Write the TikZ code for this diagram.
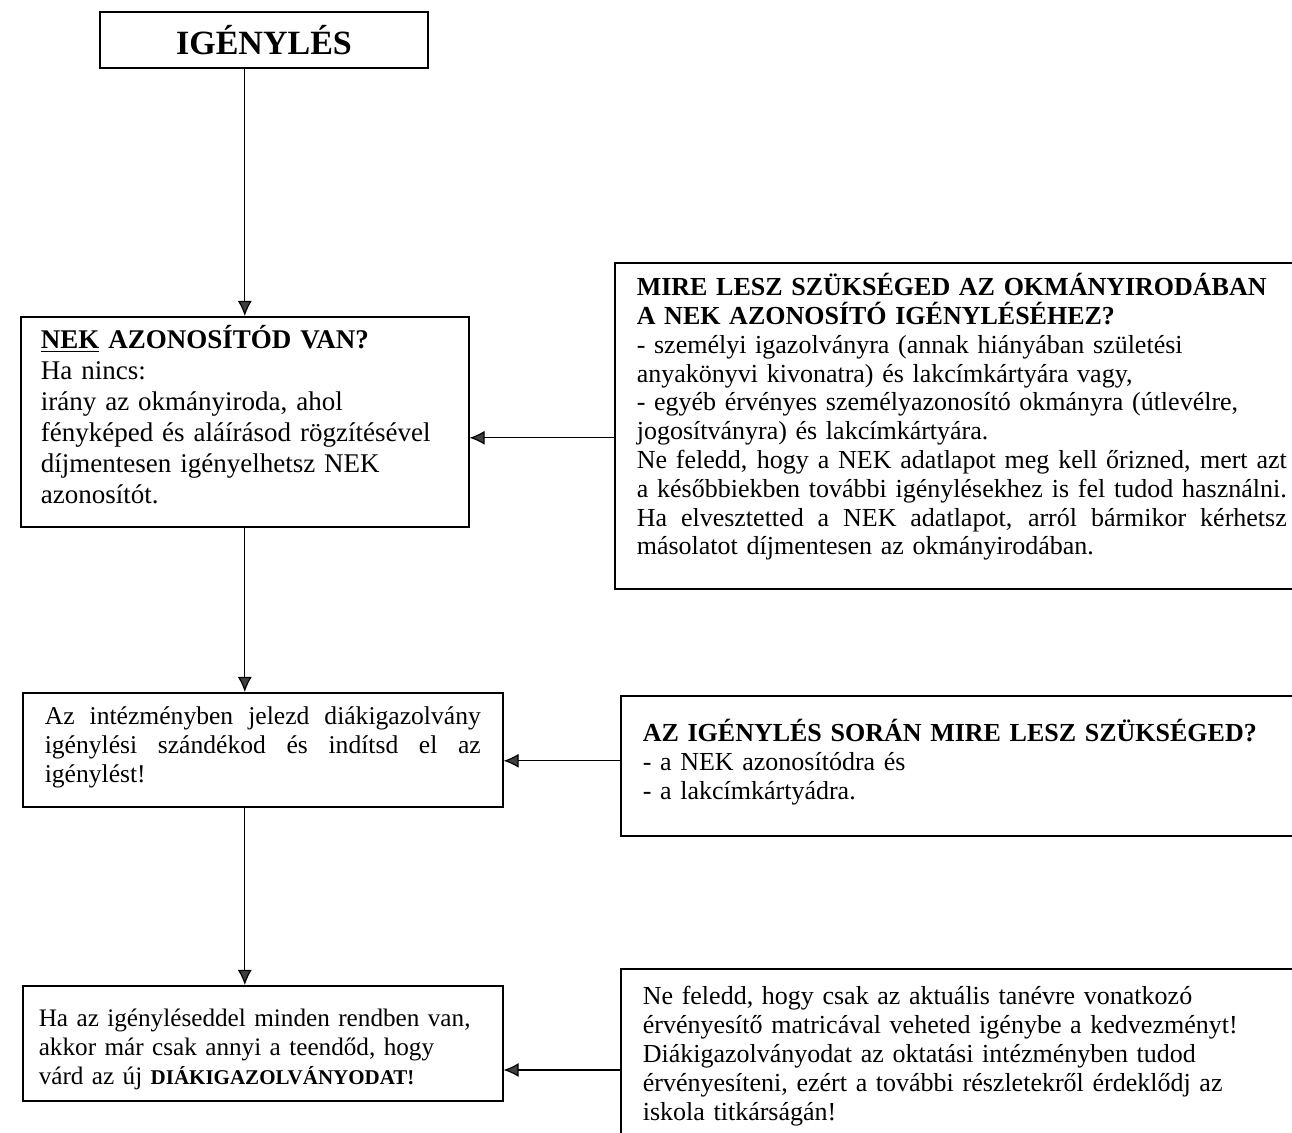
\documentclass[tikz,border=0pt]{standalone}
\usepackage{fontspec}
\setmainfont{Liberation Serif}
\usetikzlibrary{arrows.meta}

\newcommand{\spreadline}[1]{{\spaceskip=0pt\xspaceskip=0pt\makebox[\hsize][s]{#1}}}

\begin{document}
\begin{tikzpicture}[
			x = 0.5pt, y = -0.5pt, % pixel grid of the sheet
			> = {Latex[length=7.5pt,width=7pt,fill=black!75]}, % arrow head style
			semithick, % line style
			font = \fontsize{13}{14.5}\selectfont
			]
			
			\tikzstyle{stepbox}=[
			draw = black,
			thick,
			rectangle,
			anchor = north west,
			align = left,
			inner xsep = 11pt,
			inner ysep = 5pt
			]
			\tikzstyle{notebox}=[
			stepbox,
			text width = 325pt,
			text height = 10pt
			]
			
			\clip (0,0) rectangle (1292,1133);
			
			% left column
			\node[draw, thick, minimum width=164pt, minimum height=28pt,
				font=\fontsize{17}{19}\selectfont\bfseries] (title) at (264,40) {IGÉNYLÉS};
			\node[stepbox, inner xsep=10pt, text width=204pt, text height=11pt, text depth=84pt,
				font=\fontsize{13.5}{15.5}\selectfont] (nek) at (20,316)
				{\textbf{\underline{NEK} AZONOSÍTÓD VAN?}\\
				Ha nincs:\\
				irány az okmányiroda, ahol\\
				fényképed és aláírásod rögzítésével\\
				díjmentesen igényelhetsz NEK\\
				azonosítót.};
			\node[stepbox, text width=218pt, text height=11pt, text depth=36pt,
				font=\fontsize{12.8}{14.5}\selectfont] (start) at (22,692)
				{\spreadline{Az intézményben jelezd diákigazolvány}\\
				\spreadline{igénylési szándékod és indítsd el az}\\
				igénylést!};
			\node[stepbox, inner xsep=8pt, text width=224pt, text height=15.5pt, text depth=32pt,
				font=\fontsize{12.6}{14.5}\selectfont] (wait) at (22,985)
				{Ha az igényléseddel minden rendben van,\\
				akkor már csak annyi a teendőd, hogy\\
				várd az új {\bfseries\fontsize{10.5}{12}\selectfont DIÁKIGAZOLVÁNYODAT!}};
			
			% right column
			\node[notebox, inner ysep=6.5pt, text depth=140pt,
				font=\fontsize{13}{14.4}\selectfont] (office) at (614,262)
				{\textbf{MIRE LESZ SZÜKSÉGED AZ OKMÁNYIRODÁBAN}\\
				\textbf{A NEK AZONOSÍTÓ IGÉNYLÉSÉHEZ?}\\
				- személyi igazolványra (annak hiányában születési\\
				anyakönyvi kivonatra) és lakcímkártyára vagy,\\
				- egyéb érvényes személyazonosító okmányra (útlevélre,\\
				jogosítványra) és lakcímkártyára.\\
				\spreadline{Ne feledd, hogy a NEK adatlapot meg kell őrizned, mert azt}\\
				\spreadline{a későbbiekben további igénylésekhez is fel tudod használni.}\\
				\spreadline{Ha elvesztetted a NEK adatlapot, arról bármikor kérhetsz}\\
				másolatot díjmentesen az okmányirodában.};
			\node[notebox, inner ysep=13pt, text depth=34pt] (needs) at (620,695)
				{\textbf{AZ IGÉNYLÉS SORÁN MIRE LESZ SZÜKSÉGED?}\\
				- a NEK azonosítódra és\\
				- a lakcímkártyádra.};
			\node[notebox, inner ysep=8pt, text depth=100pt] (sticker) at (620,968)
				{Ne feledd, hogy csak az aktuális tanévre vonatkozó\\
				érvényesítő matricával veheted igénybe a kedvezményt!\\
				Diákigazolványodat az oktatási intézményben tudod\\
				érvényesíteni, ezért a további részletekről érdeklődj az\\
				iskola titkárságán!};
			
			% connectors
			\draw[->] (title.south -| nek.north) -- (nek.north);
			\draw[->] (nek.south) -- (nek.south |- start.north);
			\draw[->] (nek.south |- start.south) -- (nek.south |- wait.north);
			\draw[->] ([yshift=-6pt]office.west) -- ([yshift=-6pt]office.west -| nek.east);
			\draw[->] ([yshift=2.5pt]needs.west) -- ([yshift=2.5pt]needs.west -| start.east);
			\draw[->] ([yshift=-51pt]sticker.north west) -- ([yshift=-51pt]sticker.north west -| wait.east);
		\end{tikzpicture}
\end{document}
